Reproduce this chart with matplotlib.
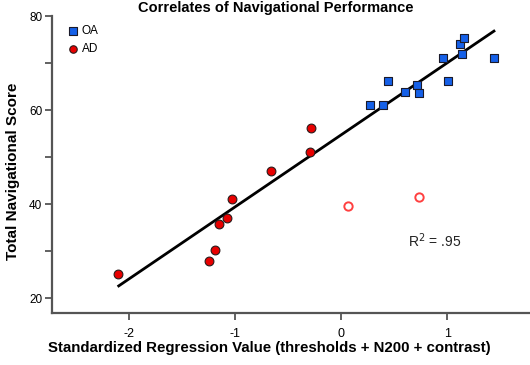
import numpy as np
import matplotlib
matplotlib.use("Agg")
import matplotlib.pyplot as plt

plt.rcParams['font.family'] = ['Liberation Sans', 'DejaVu Sans']
plt.rcParams['axes.unicode_minus'] = False

# OA group (blue squares)
oa_x = [0.27, 0.39, 0.44, 0.60, 0.71, 0.73, 0.96, 1.01, 1.12, 1.16, 1.14, 1.44]
oa_y = [61.1, 61.0, 66.2, 63.8, 65.3, 63.6, 71.1, 66.2, 74.0, 75.3, 71.9, 71.1]

# AD group (red filled circles)
ad_x = [-2.11, -1.25, -1.19, -1.15, -1.08, -1.03, -0.66, -0.29, -0.30]
ad_y = [25.1, 27.9, 30.2, 35.7, 37.0, 41.1, 47.0, 56.2, 51.0]

# AD outliers (open circles)
out_x = [0.06, 0.73]
out_y = [39.6, 41.5]

# regression line
line_x = [-2.10, 1.44]
line_y = [22.6, 76.8]

xticks = [-2, -1, 0, 1]
yticks = [20, 30, 40, 50, 60, 70, 80]
ylabels = ['20', '', '40', '', '60', '', '80']

fig = plt.figure(figsize=(5.3, 3.65), dpi=100)
ax = fig.add_axes([0.098, 0.142, 0.902, 0.814])

ax.plot(line_x, line_y, color='black', lw=2, zorder=2)
ax.scatter(oa_x, oa_y, marker='s', s=36, c='#1560e8', edgecolors='#1a1a2a', linewidths=0.8, zorder=3, label='OA')
ax.scatter(ad_x, ad_y, marker='o', s=40, c='#e80000', edgecolors='#2a1a1a', linewidths=0.8, zorder=3, label='AD')
ax.scatter(out_x, out_y, marker='o', s=36, facecolors='white', edgecolors='#ff4040', linewidths=1.4, zorder=3)

ax.text(0.63, 32.3, r'R$^2$ = .95', fontsize=10, ha='left', va='center', color='#222222')

ax.set_xlim(-2.73, 1.78)
ax.set_ylim(16.8, 80)
ax.set_xticks(xticks)
ax.set_yticks(yticks)
ax.set_yticklabels(ylabels)

for s in ['top', 'right']:
    ax.spines[s].set_visible(False)
for s in ['left', 'bottom']:
    ax.spines[s].set_color('#555555')
    ax.spines[s].set_linewidth(1.6)
ax.tick_params(axis='both', direction='out', length=5, width=1.3, color='#555555', labelsize=8.5, pad=2)
ax.tick_params(axis='x', pad=6, labelsize=9)

ax.set_xlabel('Standardized Regression Value (thresholds + N200 + contrast)', fontsize=10.8, fontweight='bold')
ax.xaxis.set_label_coords(0.454, -0.095)
ax.set_ylabel('Total Navigational Score', fontsize=11, fontweight='bold')
ax.yaxis.set_label_coords(-0.066, 0.478)

ax.legend(loc='upper left', bbox_to_anchor=(0.02, 0.985), frameon=False, fontsize=8.5,
          handletextpad=0.1, borderaxespad=0, labelspacing=0.5, handlelength=1.2, markerscale=0.85)

fig.text(0.52, 0.998, 'Correlates of Navigational Performance', fontsize=10.5, fontweight='bold',
         ha='center', va='top')

fig.savefig('out.png', dpi=100)
